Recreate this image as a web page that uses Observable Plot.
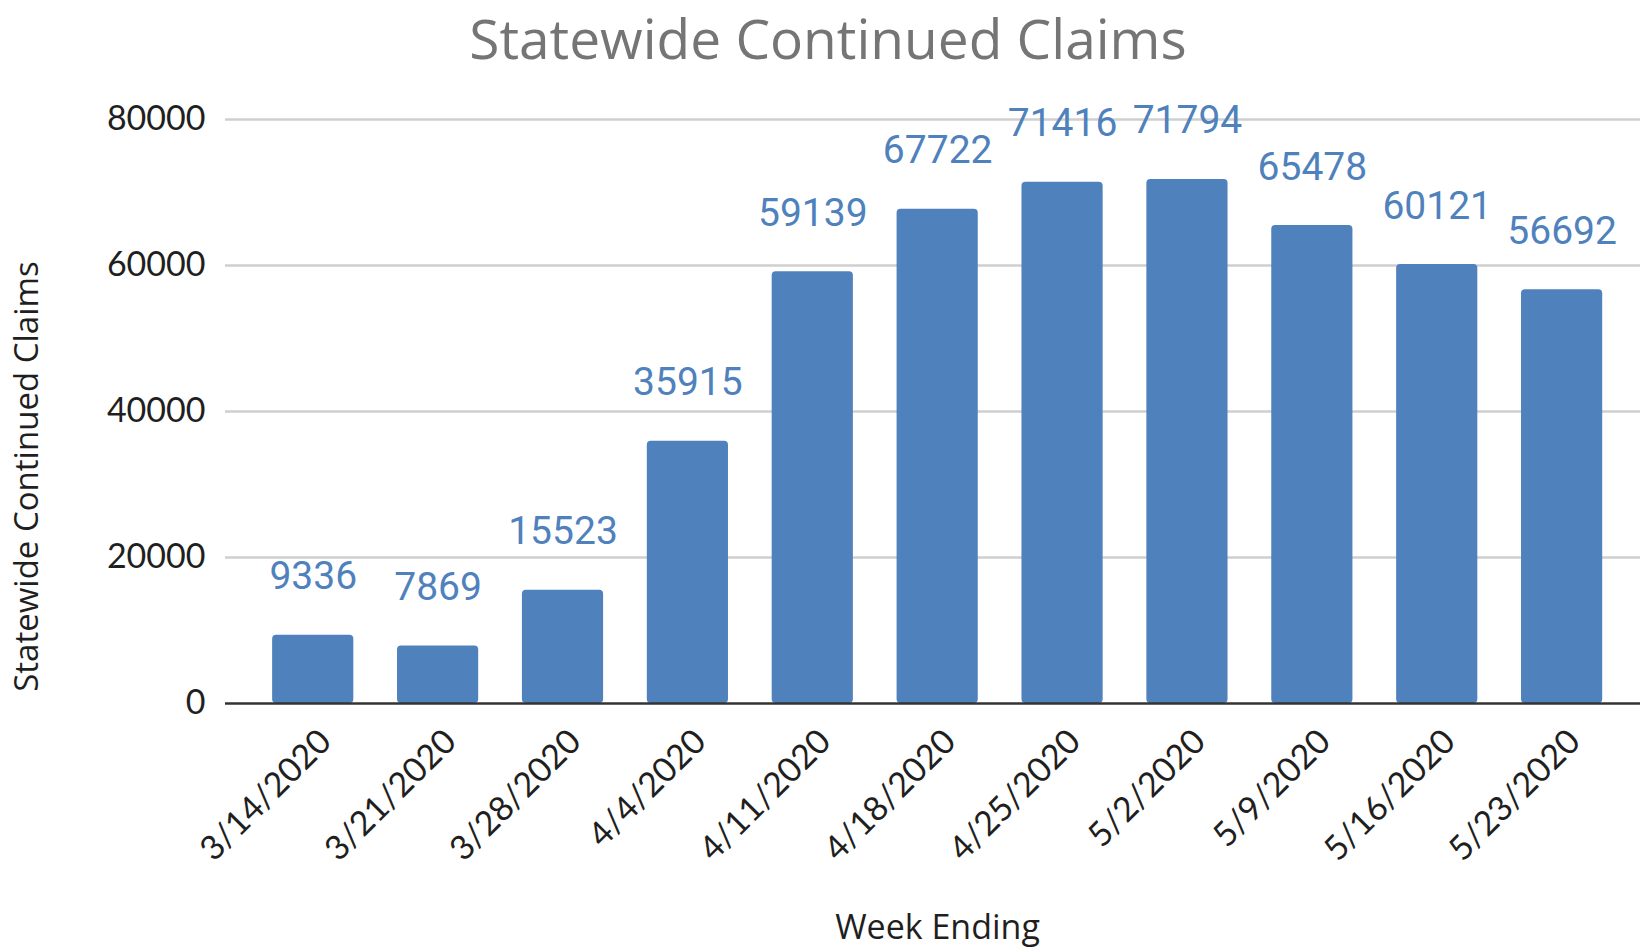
<!DOCTYPE html>
<html>
<head>
<meta charset="utf-8">
<script src="https://cdn.jsdelivr.net/npm/d3@7"></script>
<script src="https://cdn.jsdelivr.net/npm/@observablehq/plot@0.6"></script>
<style>
  html, body { margin: 0; padding: 0; background: #ffffff; }
  #title {
    width: 1640px; height: 70px; line-height: 76px;
    font-family: "Open Sans", sans-serif; font-size: 55px; color: #757575;
    text-align: center; box-sizing: border-box; padding-left: 16px;
    white-space: nowrap;
  }
  #chart svg { display: block; }
</style>
</head>
<body>
<div id="title">Statewide Continued Claims</div>
<div id="chart"></div>
<script>
const weeks = ["3/14/2020","3/21/2020","3/28/2020","4/4/2020","4/11/2020","4/18/2020","4/25/2020","5/2/2020","5/9/2020","5/16/2020","5/23/2020"];
const claims = [9336, 7869, 15523, 35915, 59139, 67722, 71416, 71794, 65478, 60121, 56692];
const yTicks = [0, 20000, 40000, 60000, 80000];
const gridTicks = [20000, 40000, 60000, 80000];
const yTitle = "Statewide Continued Claims";
const xTitle = "Week Ending";

const data = weeks.map((w, i) => ({week: w, claims: claims[i]}));

const chart = Plot.plot({
  width: 1640,
  height: 877,
  marginTop: 49,
  marginBottom: 244,
  marginLeft: 225,
  marginRight: 0,
  style: {fontFamily: "Lato, sans-serif", fontSize: "34px", color: "#1f1f1f", background: "#ffffff", overflow: "visible"},
  x: {type: "band", domain: weeks, paddingInner: 0.35, paddingOuter: 0.34, align: 0.555, round: false, axis: null},
  y: {domain: [0, 80000], axis: null},
  marks: [
    Plot.ruleY(gridTicks, {stroke: "#cfcfcf", strokeWidth: 2.5}),
    Plot.barY(data, {x: "week", y: "claims", fill: "#4f81bd", rx: 4}),
    Plot.ruleY([0], {stroke: "#333333", strokeWidth: 2.5}),
    Plot.axisY(yTicks, {tickSize: 0, tickPadding: 20, tickFormat: d => String(d), fontSize: 34, fontFamily: "Lato, sans-serif", fill: "#1f1f1f", label: null}),
    Plot.text(data, {x: "week", y: "claims", text: d => String(d.claims), fontFamily: "Roboto, sans-serif", fontSize: 39, fill: "#4f81bd", lineAnchor: "bottom", dy: -46}),
    Plot.text(weeks, {x: d => d, frameAnchor: "bottom", text: d => d, rotate: -45, textAnchor: "end", lineAnchor: "bottom", dx: 20, dy: 40, fontFamily: "Lato, sans-serif", fontSize: 34, fill: "#1f1f1f"}),
    Plot.text([yTitle], {frameAnchor: "left", text: d => d, rotate: -90, textAnchor: "middle", dx: -198, dy: 65, fontFamily: "Open Sans, sans-serif", fontSize: 33, fill: "#1f1f1f", lineAnchor: "middle"}),
    Plot.text([xTitle], {frameAnchor: "bottom", text: d => d, textAnchor: "middle", dx: 4.5, dy: 235, fontFamily: "Open Sans, sans-serif", fontSize: 34, fill: "#1f1f1f", lineAnchor: "bottom"})
  ]
});
document.getElementById("chart").appendChild(chart);
</script>
</body>
</html>
